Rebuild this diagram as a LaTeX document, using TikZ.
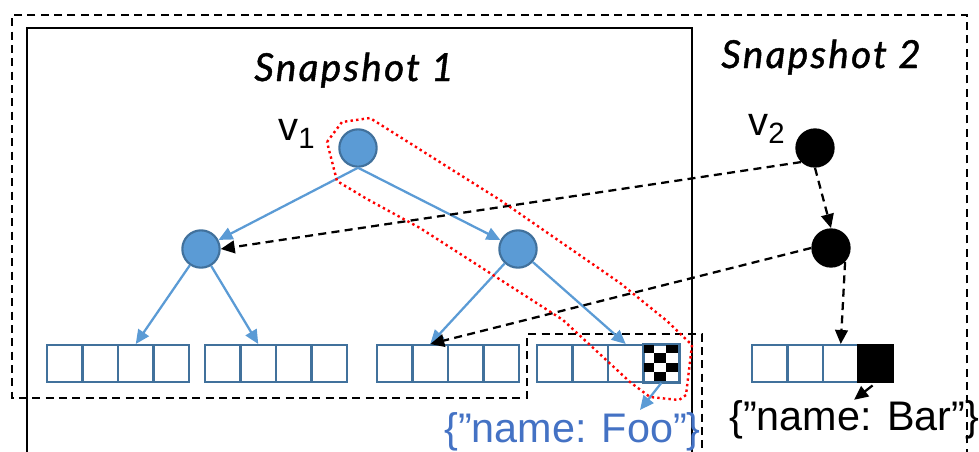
\documentclass[tikz,border=0pt]{standalone}
\usepackage{fontspec}
\setmainfont{Liberation Sans}
\newfontfamily\snapfont[LetterSpace=6,FakeBold=1.2]{Lato}
\usetikzlibrary{arrows.meta,calc}

\definecolor{nodeblue}{HTML}{5B9BD5}
\definecolor{edgeblue}{HTML}{41719C}
\definecolor{textblue}{HTML}{4472C4}

\tikzset{
  treenode/.style={circle, fill=nodeblue, draw=edgeblue, line width=1.6pt, minimum size=28pt, inner sep=0pt},
  blacknode/.style={circle, fill=black, minimum size=29.5pt, inner sep=0pt},
  cell/.style={rectangle, draw=edgeblue, fill=white, line width=1.5pt, minimum width=26.6pt, minimum height=27.75pt, inner sep=0pt},
  bluearrow/.style={draw=nodeblue, line width=1.7pt, -{Triangle[length=10.5pt,width=9.5pt]}},
  ptrarrow/.style={draw=black, line width=1.7pt, dash pattern=on 6pt off 4pt, -{Triangle[length=10.5pt,width=9.5pt]}},
  boxdash/.style={line width=1.8pt, dash pattern=on 6pt off 4pt},
  snaplabel/.style={inner sep=0pt, font=\snapfont\itshape\fontsize{29pt}{33pt}\selectfont},
  vlabel/.style={inner sep=0pt, font=\fontsize{30pt}{34pt}\selectfont},
  jsonlabel/.style={inner sep=0pt, font=\fontsize{31pt}{36pt}\selectfont},
}

\begin{document}
\begin{tikzpicture}[x=0.75pt,y=0.75pt,yscale=-1,xscale=1]
\useasboundingbox (0,0) rectangle (979,451);
\clip (0,0) rectangle (979,451);

%Shape: Snapshot 1 frame
\draw [line width=1.8pt] (27,470) -- (27,28) -- (692,28) -- (692,470) ;
%Shape: dashed outline round both snapshots
\draw [boxdash] (967,470) -- (967,15) -- (12,15) -- (12,398) -- (527,398) -- (527,334) -- (702,334) -- (702,470) ;

% Text Node
\node [snaplabel, anchor=base] (snap1) at (354,81) {Snapshot 1};
% Text Node
\node [snaplabel, anchor=base] (snap2) at (821,68) {Snapshot 2};

%Shape: Circle
\node [treenode] (v1) at (358,148) {};
\node [treenode] (L) at (201,249) {};
\node [treenode] (R) at (518,249) {};
%Shape: Circle
\node [blacknode] (v2) at (815,148) {};
\node [blacknode] (B2) at (831,248) {};

% Text Node
\node [vlabel, anchor=base west] (v1lab) at (278,140) {v\raisebox{-6.5pt}{\fontsize{22pt}{22pt}\selectfont 1}};
% Text Node
\node [vlabel, anchor=base west] (v2lab) at (748,135) {v\raisebox{-6pt}{\fontsize{22pt}{22pt}\selectfont 2}};

%Shape: leaf arrays
\foreach \a/\x in {a/47,b/205,c/377,d/537}
  \foreach \i in {1,...,4}
    \node [cell] (\a\i) at ({\x+35.5*\i-17.75},363.5) {};
\foreach \i in {1,...,3}
  \node [cell] (e\i) at ({752+35.5*\i-17.75},363.5) {};
\node [cell, fill=black, draw=black] (e4) at (875.75,363.5) {};

%Shape: checkered cell
\foreach \i/\j in {0/0,2/0,1/1,0/2,2/2,1/3}
  \fill ($(d4.north west)+(\i*11.83,\j*9.25)$) rectangle +(11.83,9.25) ;
\draw [draw=edgeblue, line width=1.5pt] (d4.north west) rectangle (d4.south east) ;

% Text Node
\node [jsonlabel, text=textblue, anchor=base west] (foo) at (444,442) {\{”name: Foo”\}};
% Text Node
\node [jsonlabel, anchor=base west] (bar) at (729,430) {\{”name: Bar”\}};
\coordinate (fooTip) at (640,410);

%Straight Lines
\draw [bluearrow] (v1.south) -- (L) ;
\draw [bluearrow] (v1.south) -- (R) ;
\draw [bluearrow] (L) -- (a3.north) ;
\draw [bluearrow] (L) -- (b2.north) ;
\draw [bluearrow] (R) -- (c2.north) ;
\draw [bluearrow] (R) -- (d3.north) ;
\draw [bluearrow] (d4.south) -- (fooTip) ;

%Straight Lines
\draw [ptrarrow] (v2.225) -- (L.east) ;
\draw [ptrarrow] (v2.south) -- (B2.north) ;
\draw [ptrarrow] (B2.west) -- (c2.north) ;
\draw [ptrarrow] (B2.south east) -- (e3.north) ;
\draw [line width=1.7pt, -{Triangle[length=10.5pt,width=9.5pt]}, shorten <=3pt] (e4.south) -- (bar.north) ;

%Shape: dotted path v1 to the checkered cell
\draw [red, line width=1.8pt, dash pattern=on 1.8pt off 2.4pt] (327,142) -- (342,122) -- (370,118) -- (500,200) -- (620,283) -- (667,321) -- (692,345) -- (686,395) -- (679,400) -- (650,397) -- (630,382) -- (563,320) -- (507,284) -- (420,228) -- (367,199) -- (337,181) -- cycle ;

\end{tikzpicture}
\end{document}
